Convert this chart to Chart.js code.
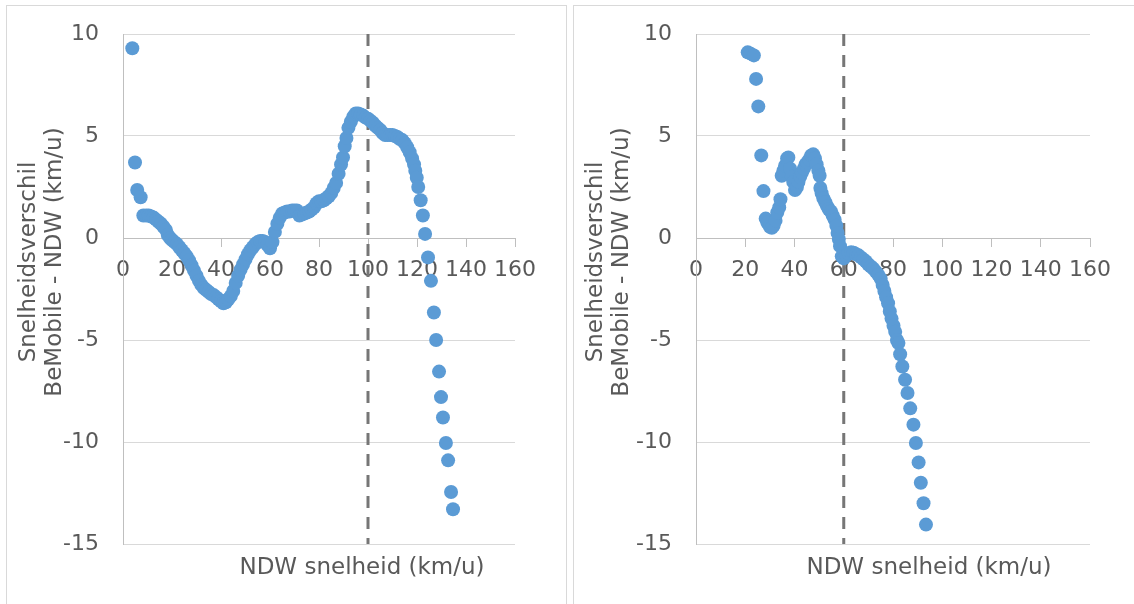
<!DOCTYPE html>
<html>
<head>
<meta charset="utf-8">
<script src="https://cdn.jsdelivr.net/npm/chart.js@4"></script>
<style>
  html, body { margin: 0; padding: 0; background: #fff; overflow: hidden; }
  body { width: 1134px; height: 604px; position: relative; }
  .panel { position: absolute; top: 5px; height: 620px; border: 1px solid #d9d9d9; background: #fff; }
  #p1 { left: 6px; width: 559px; }
  #p2 { left: 573px; width: 570px; }
  canvas { display: block; }
</style>
</head>
<body>
<div class="panel" id="p1"><canvas id="c1" width="559" height="620"></canvas></div>
<div class="panel" id="p2"><canvas id="c2" width="570" height="620"></canvas></div>
<script>
/* ================== DATA ================== */
// linker grafiek: NDW snelheid (km/u) vs verschil BeMobile - NDW
const leftSpeed = [3.8, 4.9, 5.8, 7.2, 8.3, 9.5, 10.5, 11.5, 12.5, 13.5, 14.5, 15.5, 16.5, 17.5, 18.3, 19.2,
  20, 21, 22, 23, 24, 25, 26, 27, 28, 29, 30, 31, 32, 33, 34, 35, 36, 37, 38, 39,
  40, 41, 42, 43, 44, 45, 46, 47, 48, 49, 50, 51, 52, 53, 54, 55, 56, 57, 58, 59,
  60, 61, 62, 63, 64, 65, 66, 67, 68, 69, 70, 71, 72, 73, 74, 75, 76, 77, 78, 79,
  80, 81, 82, 83, 84, 85, 86, 87, 88, 89, 89.8, 90.5, 91.2, 92, 93, 94, 95, 96, 97, 98, 99,
  100, 101, 102, 103, 104, 105, 106, 107, 108, 109, 110, 111, 112, 113, 114, 115, 116, 117, 118,
  118.8, 119.3, 119.9, 120.5, 121.5, 122.4, 123.3, 124.5, 125.7, 126.9, 127.8, 129, 129.8,
  130.6, 131.8, 132.7, 133.9, 134.7];
const leftDiff = [9.3, 3.7, 2.35, 2.0, 1.1, 1.1, 1.1, 1.05, 1.0, 0.9, 0.8, 0.7, 0.55, 0.4, 0.15, 0.0,
  -0.1, -0.2, -0.3, -0.45, -0.6, -0.75, -0.9, -1.1, -1.35, -1.6, -1.85, -2.1, -2.3, -2.45, -2.55, -2.65, -2.75, -2.8, -2.9, -3.0,
  -3.1, -3.2, -3.15, -3.0, -2.85, -2.6, -2.2, -1.85, -1.55, -1.3, -1.05, -0.8, -0.6, -0.45, -0.3, -0.2, -0.15, -0.15, -0.2, -0.35,
  -0.5, -0.2, 0.3, 0.7, 1.0, 1.2, 1.25, 1.3, 1.3, 1.35, 1.35, 1.35, 1.1, 1.15, 1.2, 1.25, 1.3, 1.4, 1.5, 1.7,
  1.8, 1.8, 1.85, 1.95, 2.05, 2.2, 2.45, 2.7, 3.15, 3.6, 3.95, 4.5, 4.9, 5.4, 5.7, 5.95, 6.1, 6.1, 6.05, 6.0, 5.9,
  5.85, 5.75, 5.65, 5.5, 5.4, 5.3, 5.15, 5.05, 5.05, 5.05, 5.05, 5.0, 4.95, 4.85, 4.8, 4.65, 4.45, 4.2, 3.9,
  3.6, 3.3, 2.95, 2.5, 1.85, 1.1, 0.2, -0.95, -2.1, -3.65, -5.0, -6.55, -7.8,
  -8.8, -10.05, -10.9, -12.45, -13.3];

// rechter grafiek
const rightSpeed = [21, 22, 23.5, 24.4, 25.3, 26.5, 27.4, 28.3, 29, 30, 30.8, 31.5, 32.3, 33, 33.8, 34.3,
  34.8, 35.5, 36.2, 37, 37.5, 38.2, 38.9, 39.5, 40.2, 41, 41.6, 42.3, 43, 43.8, 44.5, 45.2, 46, 46.8, 47.6,
  48.3, 49, 49.7, 50.2, 50.5, 51, 51.7, 52.5, 53.3, 54, 54.8, 55.5, 56.3, 57, 57.5, 58, 58.5, 59.2,
  60, 61, 62, 63, 64, 65, 66, 67, 68, 69, 70, 71, 72, 73, 74, 75, 75.8, 76.5, 77.2, 78, 78.7, 79.4,
  80.2, 80.9, 81.6, 82.2, 82.9, 83.8, 84.9, 85.9, 87, 88.3, 89.3, 90.4, 91.3, 92.4, 93.4];
const rightDiff = [9.1, 9.05, 8.95, 7.8, 6.45, 4.05, 2.3, 0.95, 0.75, 0.55, 0.5, 0.6, 0.85, 1.25, 1.5, 1.9,
  3.05, 3.3, 3.55, 3.9, 3.95, 3.4, 3.0, 2.75, 2.35, 2.5, 2.75, 3.0, 3.2, 3.4, 3.6, 3.7, 3.85, 4.05, 4.1,
  3.9, 3.6, 3.3, 3.05, 2.45, 2.2, 1.95, 1.75, 1.55, 1.4, 1.3, 1.1, 0.9, 0.6, 0.25, -0.05, -0.4, -0.9,
  -1.0, -0.85, -0.75, -0.7, -0.72, -0.8, -0.85, -0.95, -1.05, -1.15, -1.3, -1.4, -1.5, -1.65, -1.8, -2.0, -2.3, -2.6, -2.9, -3.2, -3.6, -3.95,
  -4.3, -4.6, -5.0, -5.15, -5.7, -6.3, -6.95, -7.6, -8.35, -9.15, -10.05, -11.0, -12.0, -13.0, -14.05];

// as-labels en verticale referentielijnen
const xTicks = [0, 20, 40, 60, 80, 100, 120, 140, 160];
const yTicks = [10, 5, 0, -5, -10, -15];
const refSpeedLeft = 100;
const refSpeedRight = 60;

const xTitle = "NDW snelheid (km/u)";
const yTitle = ["Snelheidsverschil", "BeMobile - NDW (km/u)"];

/* ================== STYLE ================== */
const FONT = "'DejaVu Sans', Verdana, sans-serif";
const TEXT = "#595959";
const BLUE = "#5b9bd5";

// titels zelf tekenen (positie zoals in Excel-figuur)
const titlesPlugin = {
  id: "titles",
  afterDraw(chart, args, opts) {
    const ctx = chart.ctx;
    ctx.save();
    ctx.fillStyle = TEXT;
    ctx.font = "23px " + FONT;
    ctx.textAlign = "center";
    ctx.textBaseline = "middle";
    ctx.fillText(xTitle, opts.xTitleX, opts.xTitleY);
    ctx.translate(opts.yTitleX, opts.yTitleY);
    ctx.rotate(-Math.PI / 2);
    yTitle.forEach((line, i) => ctx.fillText(line, 0, i * 26));
    ctx.restore();
  }
};

function makeChart(id, xs, ys, refX, pad, yWidth) {
  const points = xs.map((x, i) => ({ x, y: ys[i] }));
  return new Chart(document.getElementById(id), {
    type: "scatter",
    data: {
      datasets: [
        {
          data: points,
          backgroundColor: BLUE,
          borderColor: BLUE,
          borderWidth: 0,
          pointRadius: 7,
          pointHoverRadius: 7
        },
        {
          type: "line",
          data: [{ x: refX, y: 10 }, { x: refX, y: -15 }],
          borderColor: "#767676",
          borderWidth: 3,
          borderDash: [12, 9],
          pointRadius: 0,
          fill: false
        }
      ]
    },
    options: {
      responsive: false,
      animation: false,
      devicePixelRatio: 1,
      layout: { padding: pad },
      plugins: {
        legend: { display: false },
        tooltip: { enabled: false },
        titles: { xTitleX: 355, xTitleY: 562, yTitleX: 22, yTitleY: 256 }
      },
      scales: {
        x: {
          type: "linear",
          position: { y: 0 },
          min: 0, max: 160,
          afterBuildTicks: s => { s.ticks = xTicks.map(v => ({ value: v })); },
          grid: { drawOnChartArea: false, drawTicks: true, tickLength: 8, color: "#bfbfbf", lineWidth: 1 },
          border: { display: true, color: "#bfbfbf", width: 1 },
          ticks: { color: TEXT, font: { family: FONT, size: 22 }, padding: 11, autoSkip: false, maxRotation: 0, minRotation: 0 }
        },
        y: {
          type: "linear",
          position: "left",
          min: -15, max: 10,
          afterBuildTicks: s => { s.ticks = yTicks.map(v => ({ value: v })); },
          // vaste breedte en geen extra padding, zodat het plotvlak exact ligt
          afterFit: s => { s.width = yWidth; s.paddingTop = 0; s.paddingBottom = 0; },
          grid: { drawTicks: false, color: "#d9d9d9", lineWidth: 1 },
          border: { display: true, color: "#bfbfbf", width: 1 },
          ticks: { color: TEXT, font: { family: FONT, size: 22 }, padding: 24 }
        }
      }
    },
    plugins: [titlesPlugin]
  });
}

makeChart("c1", leftSpeed, leftDiff, refSpeedLeft, { left: 0, right: 51, top: 28, bottom: 82 }, 116);
makeChart("c2", rightSpeed, rightDiff, refSpeedRight, { left: 0, right: 54, top: 28, bottom: 82 }, 122);
</script>
</body>
</html>
